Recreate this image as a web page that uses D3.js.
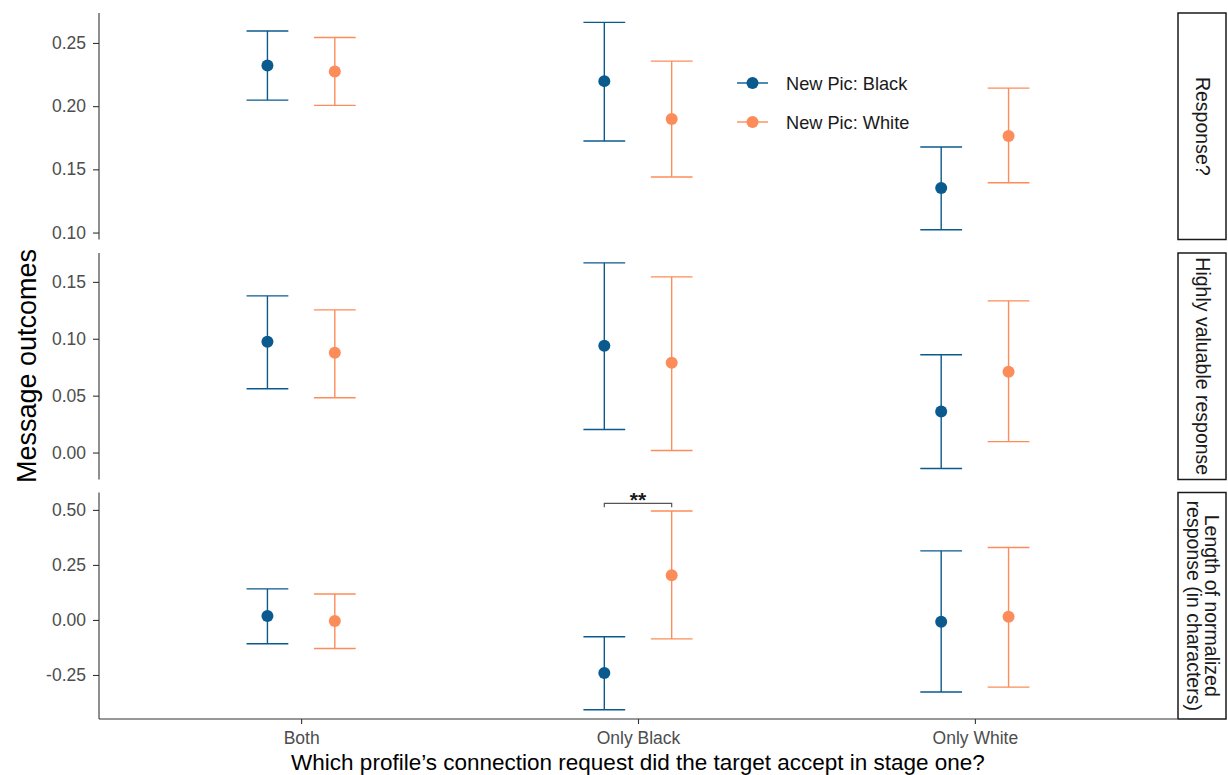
<!DOCTYPE html>
<html>
<head>
<meta charset="utf-8">
<script src="https://cdn.jsdelivr.net/npm/d3@7"></script>
<style>
  body { margin: 0; background: #fff; }
  svg { display: block; font-family: "Liberation Sans", Arial, Helvetica, sans-serif; }
</style>
</head>
<body>
<svg id="chart" width="1228" height="775"></svg>
<script>
// ---- data ----
const categories = ["Both", "Only Black", "Only White"];
const seriesNames = ["New Pic: Black", "New Pic: White"];
const seriesColors = ["#0a5a8e", "#fc8c59"];
const outcomeLabels = [["Response?"], ["Highly valuable response"], ["Length of normalized", "response (in characters)"]];

// Response?
const respBlackEst = [0.2322, 0.2198, 0.1353];
const respBlackLo  = [0.2048, 0.1724, 0.1022];
const respBlackHi  = [0.2595, 0.2663, 0.1677];
const respWhiteEst = [0.2274, 0.1898, 0.1764];
const respWhiteLo  = [0.2006, 0.1440, 0.1394];
const respWhiteHi  = [0.2543, 0.2356, 0.2143];

// Highly valuable response
const hvBlackEst = [0.0974, 0.0939, 0.0360];
const hvBlackLo  = [0.0561, 0.0202, -0.0140];
const hvBlackHi  = [0.1377, 0.1667, 0.0860];
const hvWhiteEst = [0.0877, 0.0789, 0.0711];
const hvWhiteLo  = [0.0482, 0.0018, 0.0096];
const hvWhiteHi  = [0.1254, 0.1544, 0.1333];

// Length of normalized response
const lenBlackEst = [0.018, -0.241, -0.008];
const lenBlackLo  = [-0.108, -0.408, -0.327];
const lenBlackHi  = [0.141, -0.076, 0.314];
const lenWhiteEst = [-0.005, 0.203, 0.014];
const lenWhiteLo  = [-0.130, -0.086, -0.305];
const lenWhiteHi  = [0.118, 0.495, 0.329];

const panelTicks = [
  [0.10, 0.15, 0.20, 0.25],
  [0.00, 0.05, 0.10, 0.15],
  [-0.25, 0.00, 0.25, 0.50]
];
const panelTickLabels = [
  ["0.10", "0.15", "0.20", "0.25"],
  ["0.00", "0.05", "0.10", "0.15"],
  ["-0.25", "0.00", "0.25", "0.50"]
];
const panelDomains = [[0.0945, 0.2737], [-0.0237, 0.1754], [-0.450, 0.579]];

// significance annotation (panel 3, Only Black)
const sigCategory = "Only Black";
const sigLabel = "**";
const sigValue = 0.53;

const panels = [
  [[respBlackEst, respBlackLo, respBlackHi], [respWhiteEst, respWhiteLo, respWhiteHi]],
  [[hvBlackEst, hvBlackLo, hvBlackHi], [hvWhiteEst, hvWhiteLo, hvWhiteHi]],
  [[lenBlackEst, lenBlackLo, lenBlackHi], [lenWhiteEst, lenWhiteLo, lenWhiteHi]]
];

// ---- layout ----
const svg = d3.select("#chart");
const left = 99, right = 1177;
const panelTops = [13, 253, 492.5];
const panelH = 226.5;
const stripW = 48;

const x = d3.scalePoint().domain(categories).range([left, right]).padding(0.6);
const step = x.step();
const dodge = [-0.1 * step, 0.1 * step];
const capHalf = 0.062 * step;

const axisColor = "#333333";
const tickTextColor = "#4d4d4d";
const tickFont = "17.5px";

panels.forEach((panel, pi) => {
  const top = panelTops[pi], bottom = top + panelH;
  const y = d3.scaleLinear().domain(panelDomains[pi]).range([bottom, top]);
  const g = svg.append("g");

  // y axis
  const yAxis = d3.axisLeft(y).tickValues(panelTicks[pi])
    .tickFormat((d, i) => panelTickLabels[pi][i]).tickSize(6).tickPadding(7);
  const ya = g.append("g").attr("transform", `translate(${left},0)`).call(yAxis);
  ya.select(".domain").attr("d", `M0,${top}V${bottom}`).attr("stroke", axisColor).attr("stroke-width", 1.1);
  ya.selectAll(".tick line").attr("stroke", axisColor).attr("stroke-width", 1.1);
  ya.selectAll(".tick text").attr("fill", tickTextColor).style("font-size", tickFont)
    .style("font-family", "'Liberation Sans', Arial, sans-serif");

  // series
  panel.forEach((ser, si) => {
    const [est, lo, hi] = ser;
    const col = seriesColors[si];
    const sg = g.append("g");
    categories.forEach((c, ci) => {
      const cx = x(c) + dodge[si];
      sg.append("line").attr("x1", cx).attr("x2", cx).attr("y1", y(lo[ci])).attr("y2", y(hi[ci]))
        .attr("stroke", col).attr("stroke-width", 1.4);
      [lo[ci], hi[ci]].forEach(v => {
        sg.append("line").attr("x1", cx - capHalf).attr("x2", cx + capHalf).attr("y1", y(v)).attr("y2", y(v))
          .attr("stroke", col).attr("stroke-width", 1.4);
      });
      sg.append("circle").attr("cx", cx).attr("cy", y(est[ci])).attr("r", 6).attr("fill", col);
    });
  });

  // strip
  const sx = right + 1, sw = stripW;
  g.append("rect").attr("x", sx).attr("y", top).attr("width", sw).attr("height", panelH)
    .attr("fill", "#fff").attr("stroke", "#1a1a1a").attr("stroke-width", 1.5);
  const lines = outcomeLabels[pi];
  const cxS = sx + sw / 2 + 1, cyS = top + panelH / 2;
  const lh = 18;
  const t = g.append("text").attr("transform", `translate(${cxS},${cyS}) rotate(90)`)
    .attr("text-anchor", "middle").attr("fill", "#1a1a1a").style("font-size", "19.5px");
  lines.forEach((ln, li) => {
    const off = (li - (lines.length - 1) / 2) * lh;
    t.append("tspan").attr("x", 0).attr("y", off + 7).text(ln);
  });

  // x axis only on bottom panel
  if (pi === panels.length - 1) {
    const xAxis = d3.axisBottom(x).tickSize(5).tickPadding(7.5);
    const xa = g.append("g").attr("transform", `translate(0,${bottom})`).call(xAxis);
    xa.select(".domain").attr("d", `M${left},0H${right}`).attr("stroke", axisColor).attr("stroke-width", 1.1);
    xa.selectAll(".tick line").attr("stroke", axisColor).attr("stroke-width", 1.1);
    xa.selectAll(".tick text").attr("fill", tickTextColor).style("font-size", tickFont)
      .style("font-family", "'Liberation Sans', Arial, sans-serif");

    // significance bracket
    const bx1 = x(sigCategory) + dodge[0], bx2 = x(sigCategory) + dodge[1];
    const by = y(sigValue);
    g.append("path").attr("d", `M${bx1},${by + 4}V${by}H${bx2}V${by + 4}`)
      .attr("fill", "none").attr("stroke", "#555").attr("stroke-width", 1.2);
    g.append("text").attr("x", (bx1 + bx2) / 2).attr("y", by + 4).attr("text-anchor", "middle")
      .attr("fill", "#1a1a1a").style("font-size", "21px").style("font-weight", "bold").text(sigLabel);
  }
});

// legend
const lg = svg.append("g").attr("transform", "translate(737,83)");
seriesNames.forEach((n, i) => {
  const row = lg.append("g").attr("transform", `translate(0,${i * 39})`);
  row.append("line").attr("x1", 0).attr("x2", 31).attr("y1", 0).attr("y2", 0)
    .attr("stroke", seriesColors[i]).attr("stroke-width", 1.4);
  row.append("circle").attr("cx", 15.5).attr("cy", 0).attr("r", 6).attr("fill", seriesColors[i]);
  row.append("text").attr("x", 49).attr("y", 6.5).attr("fill", "#1a1a1a").style("font-size", "18.2px").text(n);
});

// axis titles
svg.append("text").attr("transform", "translate(36,366) rotate(-90)").attr("text-anchor", "middle")
  .attr("fill", "#000").style("font-size", "27px").text("Message outcomes");
svg.append("text").attr("x", 638).attr("y", 770).attr("text-anchor", "middle")
  .attr("fill", "#000").style("font-size", "22.5px")
  .text("Which profile\u2019s connection request did the target accept in stage one?");
</script>
</body>
</html>
